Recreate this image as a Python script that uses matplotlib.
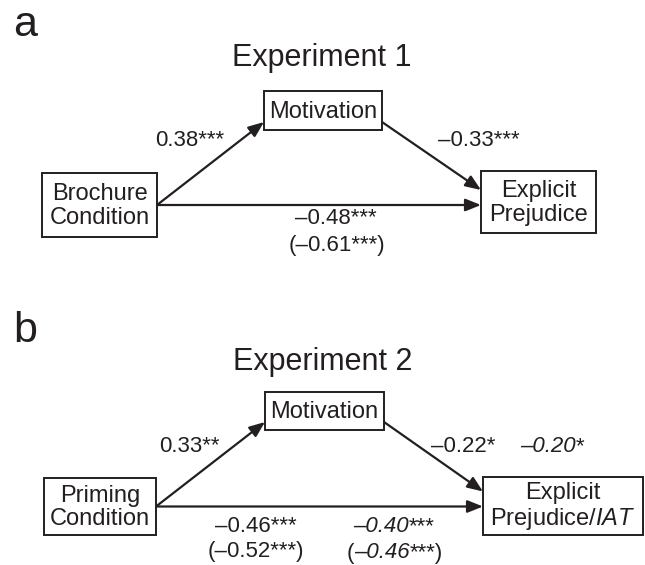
import matplotlib.pyplot as plt
from matplotlib.patches import Rectangle
from matplotlib.offsetbox import TextArea, HPacker, AnnotationBbox

plt.rcParams['font.family'] = ['Liberation Sans', 'DejaVu Sans']
plt.rcParams['mathtext.fontset'] = 'custom'
plt.rcParams['mathtext.rm'] = 'Liberation Sans'
plt.rcParams['mathtext.it'] = 'Liberation Sans:italic'

# data
panel_letters = ["a", "b"]
titles = ["Experiment 1", "Experiment 2"]
predictors = ["Brochure\nCondition", "Priming\nCondition"]
mediators = ["Motivation", "Motivation"]
outcomes = ["Explicit\nPrejudice", "Explicit\nPrejudice/$\\mathit{IAT}$"]
a_paths = ["0.38***", "0.33**"]
b_paths = ["–0.33***", "–0.22*"]
direct_paths = ["–0.48***", "–0.46***"]
total_paths = ["(–0.61***)", "(–0.52***)"]
# Experiment 2, IAT outcome: (before, italic coefficient, after)
b_path_iat = ("", "–0.20", "*")
direct_iat = ("", "–0.40", "***")
total_iat = ("(", "–0.46", "***)")

ink = "#231f20"

# layout in pixels (x right, y down)
layout = [
    dict(pred=(42, 173, 157, 237), med=(264, 91, 382, 130), out=(481, 171, 596, 233),
         a_lab=(190, 140), b_lab=(479, 140), d_lab=(336, 219), t_lab=(337, 245)),
    dict(pred=(44, 478, 156, 535), med=(265, 392, 384, 430), out=(483, 477, 643, 535),
         a_lab=(189, 446), b_lab=(463, 446), d_lab=(256, 526), t_lab=(256, 552)),
]
letter_pos = [(13, 25), (13, 331)]
title_pos = [(322, 58), (323, 362)]

fig = plt.figure(figsize=(6.45, 5.65), dpi=100)
ax = fig.add_axes([0, 0, 1, 1])
ax.set_xlim(0, 645)
ax.set_ylim(565, 0)
ax.axis("off")

fs = 17
lfs = 16


def box(r, label):
    x0, y0, x1, y1 = r
    ax.add_patch(Rectangle((x0, y0), x1 - x0, y1 - y0, facecolor="white",
                           edgecolor=ink, lw=1.4, zorder=3))
    ax.text((x0 + x1) / 2, (y0 + y1) / 2 + 1, label, ha="center", va="center",
            fontsize=fs, color=ink, linespacing=1.1, zorder=4)


def arrow(p0, p1):
    ax.annotate("", xy=p1, xytext=p0,
                arrowprops=dict(arrowstyle="-|>,head_length=0.55,head_width=0.22",
                                lw=1.6, color=ink, mutation_scale=17,
                                shrinkA=0, shrinkB=0), zorder=2)


def mixed(xy, parts):
    up = dict(fontsize=lfs, color=ink)
    it = dict(fontsize=lfs, color=ink, style="italic")
    kids = [TextArea(parts[0], textprops=up), TextArea(parts[1], textprops=it),
            TextArea(parts[2], textprops=up)]
    kids = [k for k, p in zip(kids, parts) if p]
    pack = HPacker(children=kids, align="baseline", pad=0, sep=0)
    ab = AnnotationBbox(pack, (xy[0], xy[1] + 1), frameon=False, pad=0,
                        box_alignment=(0.5, 0.5))
    ax.add_artist(ab)


for i, L in enumerate(layout):
    ax.text(*letter_pos[i], panel_letters[i], fontsize=31, ha="left", va="center", color=ink)
    ax.text(*title_pos[i], titles[i], fontsize=22, ha="center", va="center", color=ink)

    box(L["pred"], predictors[i])
    box(L["med"], mediators[i])
    box(L["out"], outcomes[i])

    px0, py0, px1, py1 = L["pred"]
    mx0, my0, mx1, my1 = L["med"]
    ox0, oy0, ox1, oy1 = L["out"]
    yc = (py0 + py1) / 2
    arrow((px1, yc), (mx0, my1 - 8))
    arrow((mx1, my1 - 8), (ox0, yc - 15))
    arrow((px1, yc), (ox0, yc))

    ax.text(*L["a_lab"], a_paths[i], fontsize=lfs, ha="center", va="center", color=ink)
    ax.text(*L["b_lab"], b_paths[i], fontsize=lfs, ha="center", va="center", color=ink)
    ax.text(*L["d_lab"], direct_paths[i], fontsize=lfs, ha="center", va="center", color=ink)
    ax.text(*L["t_lab"], total_paths[i], fontsize=lfs, ha="center", va="center", color=ink)

mixed((552, 446), b_path_iat)
mixed((394, 526), direct_iat)
mixed((395, 552), total_iat)

fig.savefig("out.png", dpi=100)
